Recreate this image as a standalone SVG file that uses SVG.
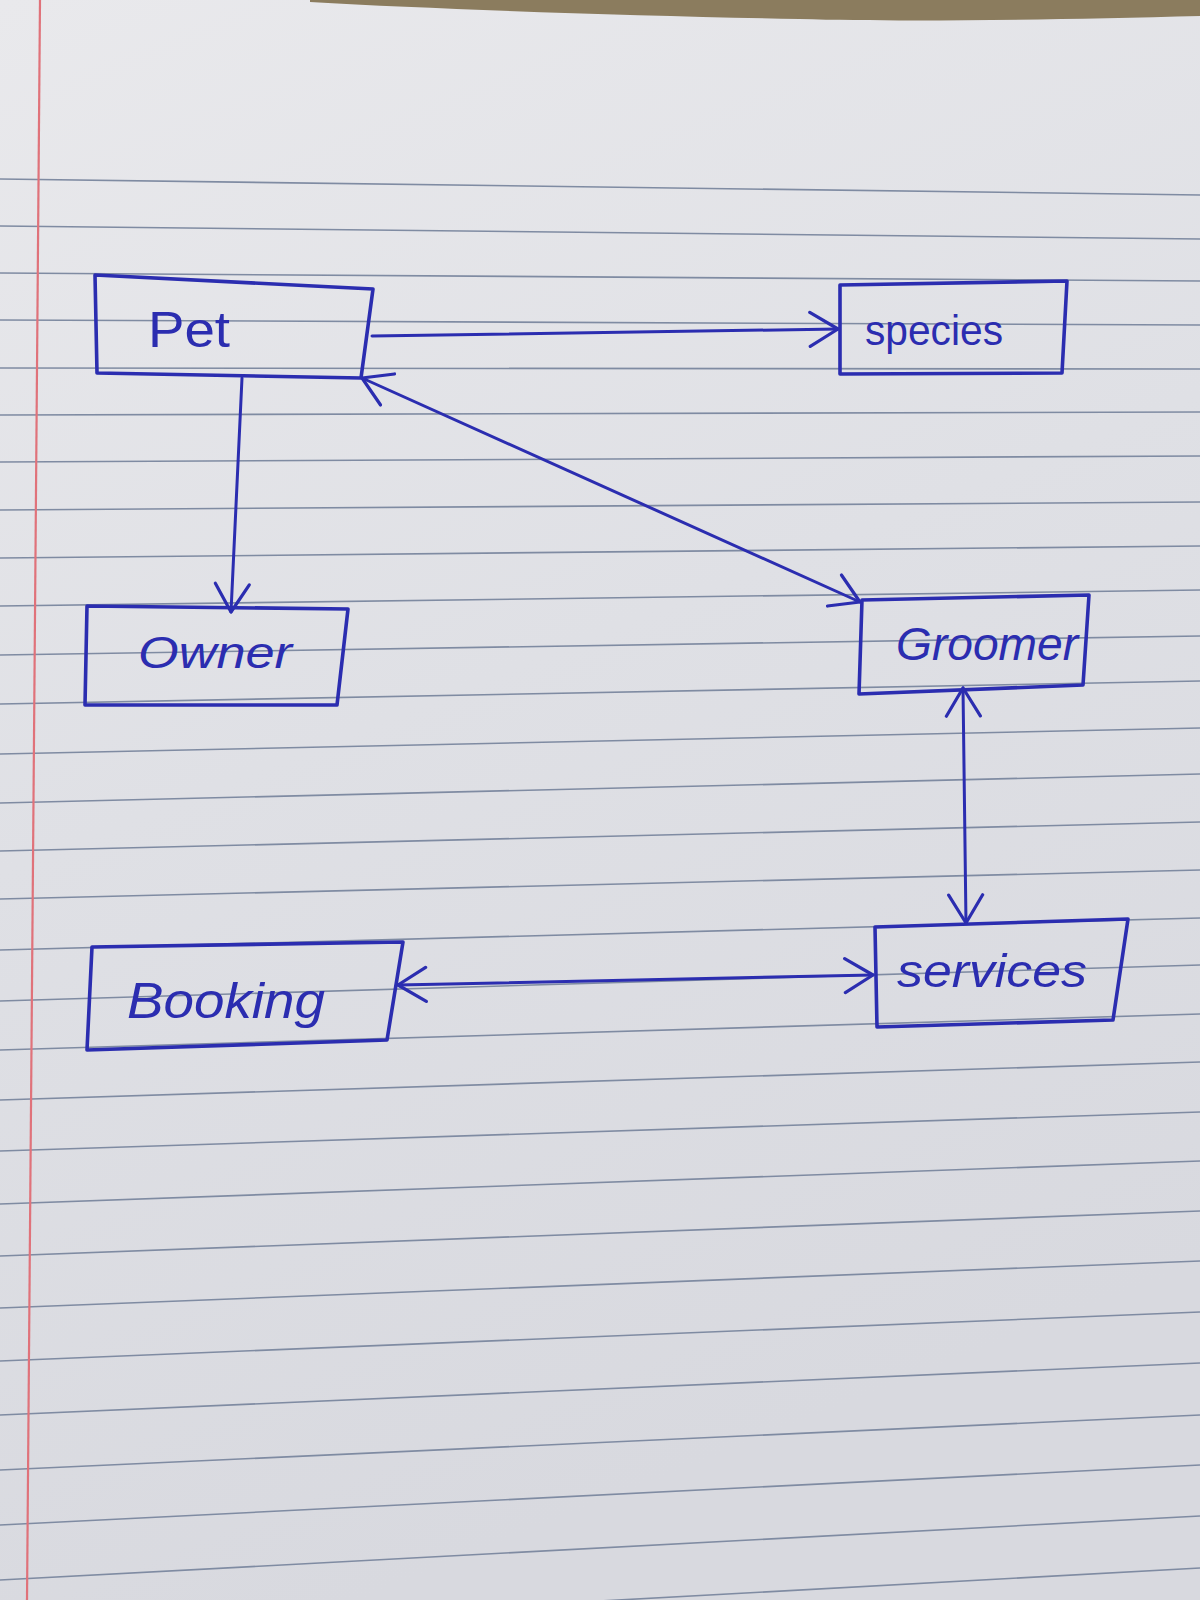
<svg xmlns="http://www.w3.org/2000/svg" width="1200" height="1600" viewBox="0 0 1200 1600">
  <defs>
    <linearGradient id="paper" x1="0" y1="0" x2="0.3" y2="1">
      <stop offset="0" stop-color="#e9e9ec"/>
      <stop offset="0.5" stop-color="#dfe0e5"/>
      <stop offset="1" stop-color="#d8d9df"/>
    </linearGradient>
    <marker id="arrow" viewBox="0 0 32 40" refX="30" refY="20" markerWidth="32" markerHeight="40" markerUnits="userSpaceOnUse" orient="auto-start-reverse">
      <path d="M2,3 L30,20 L2,37" fill="none" stroke="#2b2db0" stroke-width="3.2" stroke-linecap="round" stroke-linejoin="round"/>
    </marker>
    <style>
      .rule { stroke: #7f8ba2; stroke-width: 1.6; fill: none; }
      .box { fill: none; stroke: #2b2db0; stroke-width: 3.6; stroke-linejoin: round; stroke-linecap: round; }
      .conn { fill: none; stroke: #2b2db0; stroke-width: 3; stroke-linecap: round; }
      .lbl { font-family: "Liberation Sans", "DejaVu Sans", sans-serif; fill: #2b2db0; }
    </style>
  </defs>

  <g id="paper-background">
    <rect x="0" y="0" width="1200" height="1600" fill="url(#paper)"/>
    <path d="M310,0 L1200,0 L1200,16 C1050,20 900,22 800,19 C650,16 450,10 310,2 Z" fill="#8b7c5e"/>
    <g id="ruled-lines">
      <line class="rule" x1="0" y1="179" x2="1200" y2="195"/>
      <line class="rule" x1="0" y1="226" x2="1200" y2="239"/>
      <line class="rule" x1="0" y1="273" x2="1200" y2="281"/>
      <line class="rule" x1="0" y1="320" x2="1200" y2="325"/>
      <line class="rule" x1="0" y1="368" x2="1200" y2="369"/>
      <line class="rule" x1="0" y1="415" x2="1200" y2="412"/>
      <line class="rule" x1="0" y1="462" x2="1200" y2="456"/>
      <line class="rule" x1="0" y1="510" x2="1200" y2="502"/>
      <line class="rule" x1="0" y1="558" x2="1200" y2="546"/>
      <line class="rule" x1="0" y1="606" x2="1200" y2="590"/>
      <line class="rule" x1="0" y1="655" x2="1200" y2="636"/>
      <line class="rule" x1="0" y1="704" x2="1200" y2="681"/>
      <line class="rule" x1="0" y1="754" x2="1200" y2="728"/>
      <line class="rule" x1="0" y1="803" x2="1200" y2="774"/>
      <line class="rule" x1="0" y1="851" x2="1200" y2="822"/>
      <line class="rule" x1="0" y1="899" x2="1200" y2="870"/>
      <line class="rule" x1="0" y1="950" x2="1200" y2="918"/>
      <line class="rule" x1="0" y1="1001" x2="1200" y2="965"/>
      <line class="rule" x1="0" y1="1050" x2="1200" y2="1014"/>
      <line class="rule" x1="0" y1="1100" x2="1200" y2="1062"/>
      <line class="rule" x1="0" y1="1151" x2="1200" y2="1112"/>
      <line class="rule" x1="0" y1="1204" x2="1200" y2="1161"/>
      <line class="rule" x1="0" y1="1256" x2="1200" y2="1211"/>
      <line class="rule" x1="0" y1="1308" x2="1200" y2="1261"/>
      <line class="rule" x1="0" y1="1361" x2="1200" y2="1312"/>
      <line class="rule" x1="0" y1="1415" x2="1200" y2="1363"/>
      <line class="rule" x1="0" y1="1470" x2="1200" y2="1415"/>
      <line class="rule" x1="0" y1="1525" x2="1200" y2="1465"/>
      <line class="rule" x1="0" y1="1580" x2="1200" y2="1516"/>
      <line class="rule" x1="0" y1="1634" x2="1200" y2="1568"/>
    </g>
    <line x1="40" y1="0" x2="27" y2="1600" stroke="#e0727a" stroke-width="2.2"/>
  </g>

  <g id="connectors">
    <path id="pet-species" class="conn" d="M372,336 L838,329" marker-end="url(#arrow)"/>
    <path id="pet-owner" class="conn" d="M242,378 L231,612" marker-end="url(#arrow)"/>
    <path id="pet-groomer" class="conn" d="M362,378 L860,602" marker-start="url(#arrow)" marker-end="url(#arrow)"/>
    <path id="groomer-services" class="conn" d="M963,688 L966,923" marker-start="url(#arrow)" marker-end="url(#arrow)"/>
    <path id="booking-services" class="conn" d="M398,985 L873,975" marker-start="url(#arrow)" marker-end="url(#arrow)"/>
  </g>

  <g id="node-pet">
    <path class="box" d="M95,275 L373,289 L361,378 L97,373 Z"/>
    <text class="lbl" x="148" y="347" font-size="50" textLength="82" lengthAdjust="spacingAndGlyphs">Pet</text>
  </g>
  <g id="node-species">
    <path class="box" d="M840,285 L1067,281 L1062,373 L840,374 Z"/>
    <text class="lbl" x="865" y="345" font-size="42" textLength="138" lengthAdjust="spacingAndGlyphs">species</text>
  </g>
  <g id="node-owner">
    <path class="box" d="M87,606 L348,609 L337,705 L85,705 Z"/>
    <text class="lbl" x="138" y="668" font-size="44" font-style="italic" textLength="154" lengthAdjust="spacingAndGlyphs">Owner</text>
  </g>
  <g id="node-groomer">
    <path class="box" d="M862,600 L1089,595 L1083,685 L859,694 Z"/>
    <text class="lbl" x="896" y="660" font-size="46" font-style="italic" textLength="182" lengthAdjust="spacingAndGlyphs">Groomer</text>
  </g>
  <g id="node-booking">
    <path class="box" d="M92,947 L403,942 L387,1040 L87,1050 Z"/>
    <text class="lbl" x="127" y="1018" font-size="50" font-style="italic" textLength="198" lengthAdjust="spacingAndGlyphs">Booking</text>
  </g>
  <g id="node-services">
    <path class="box" d="M875,927 L1128,919 L1113,1020 L877,1027 Z"/>
    <text class="lbl" x="897" y="987" font-size="46" font-style="italic" textLength="190" lengthAdjust="spacingAndGlyphs">services</text>
  </g>
</svg>
